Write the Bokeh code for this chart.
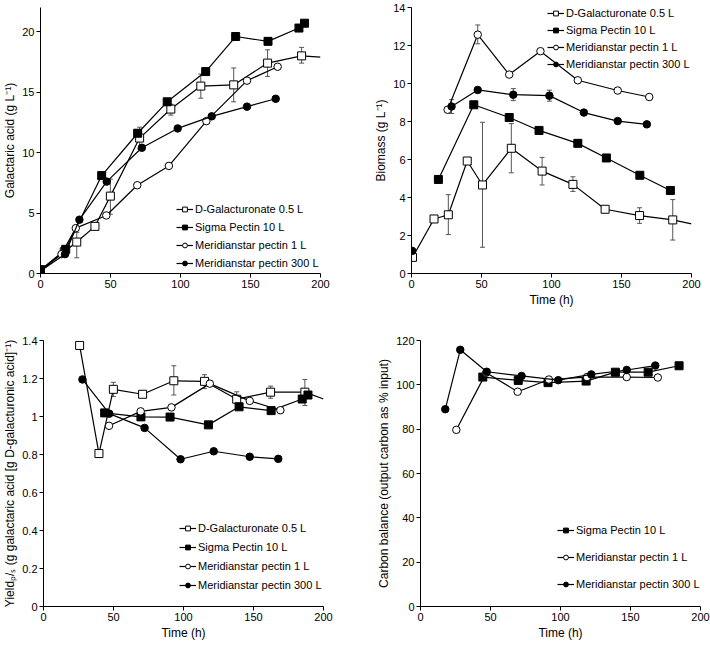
from bokeh.plotting import figure
from bokeh.models import ColumnDataSource, Whisker, TeeHead, Legend, LegendItem, FixedTicker, Range1d
from bokeh.layouts import column, row
from bokeh.embed import file_html
from bokeh.resources import INLINE

FONT = "Liberation Sans"

# ---------------- data ----------------
time_ticks = [0, 50, 100, 150, 200]

# Panel 1: Galactaric acid (g/L)
ga_dgal_t = [0, 17, 25.9, 38.9, 49.9, 70.8, 93.1, 114.5, 138.0, 162.2, 186.5]
ga_dgal_y = [0.3, 1.8, 2.6, 3.9, 6.4, 11.2, 13.6, 15.5, 15.6, 17.4, 18.0]
ga_dgal_tail = (200, 17.9)
ga_dgal_err_t = [25.9, 49.9, 70.8, 93.1, 114.5, 138.0, 162.2, 186.5]
ga_dgal_err_lo = [1.3, 4.9, 10.3, 13.1, 14.5, 14.2, 16.3, 17.4]
ga_dgal_err_hi = [3.4, 7.8, 12.1, 14.0, 16.5, 17.0, 18.5, 18.7]
ga_sigma_t = [0, 18, 43.7, 69.4, 90.5, 118.0, 139.4, 162.5, 184.6, 188.6]
ga_sigma_y = [0.3, 2.0, 8.1, 11.6, 14.2, 16.7, 19.6, 19.2, 20.3, 20.7]
ga_ms1_t = [0, 15, 25.2, 47.0, 69.1, 91.7, 118.5, 147.5, 169.4]
ga_ms1_y = [0.2, 1.6, 3.75, 4.8, 7.3, 8.9, 12.6, 15.95, 17.1]
ga_ms300_t = [0, 17.5, 27.8, 47.3, 72.4, 98.0, 122.3, 147.5, 168.0]
ga_ms300_y = [0.2, 1.6, 4.45, 7.6, 10.4, 12.0, 13.0, 13.8, 14.45]
ga_yticks = [0, 5, 10, 15, 20]

# Panel 2: Biomass (g/L)
bm_dgal_t = [0.7, 16.1, 26.3, 39.8, 50.7, 71.3, 93.3, 115.3, 138.3, 162.9, 186.6]
bm_dgal_y = [0.85, 2.87, 3.09, 5.92, 4.66, 6.59, 5.39, 4.69, 3.38, 3.05, 2.82]
bm_dgal_tail = (200, 2.61)
bm_dgal_err_t = [26.3, 50.7, 71.3, 93.3, 115.3, 162.9, 186.6]
bm_dgal_err_lo = [2.05, 1.38, 5.3, 4.66, 4.32, 2.64, 1.76]
bm_dgal_err_hi = [4.15, 7.96, 7.89, 6.11, 5.09, 3.46, 3.89]
bm_sigma_t = [19.2, 44.5, 69.8, 91.1, 118.8, 139.2, 163.1, 184.9]
bm_sigma_y = [4.95, 8.88, 8.21, 7.53, 6.85, 6.08, 5.17, 4.37]
bm_ms1_t = [25.8, 47.3, 69.8, 92.1, 118.8, 147.3, 169.8]
bm_ms1_y = [8.62, 12.57, 10.47, 11.7, 10.17, 9.63, 9.29]
bm_ms1_err_t = [47.3]
bm_ms1_err_lo = [12.09]
bm_ms1_err_hi = [13.08]
bm_ms300_t = [0.5, 28.6, 47.3, 72.7, 98.5, 123.1, 147.3, 168.1]
bm_ms300_y = [1.19, 8.79, 9.66, 9.41, 9.36, 8.47, 8.02, 7.85]
bm_ms300_err_t = [28.6, 72.7, 98.5]
bm_ms300_err_lo = [8.42, 9.1, 9.07]
bm_ms300_err_hi = [9.15, 9.73, 9.65]
bm_yticks = [0, 2, 4, 6, 8, 10, 12, 14]

# Panel 3: Yield P/S
yl_dgal_t = [25.8, 39.6, 49.9, 70.8, 93.1, 115.0, 138.0, 162.2, 186.7]
yl_dgal_y = [1.374, 0.805, 1.143, 1.117, 1.188, 1.185, 1.091, 1.128, 1.128]
yl_dgal_tail = (200, 1.092)
yl_dgal_err_t = [49.9, 93.1, 115.0, 138.0, 162.2, 186.7]
yl_dgal_err_lo = [1.105, 1.113, 1.147, 1.07, 1.096, 1.058]
yl_dgal_err_hi = [1.18, 1.267, 1.22, 1.13, 1.16, 1.195]
yl_sigma_t = [43.7, 69.6, 90.4, 117.8, 139.7, 162.6, 184.8, 188.9]
yl_sigma_y = [1.019, 0.998, 0.997, 0.956, 1.051, 1.031, 1.092, 1.113]
yl_ms1_t = [46.8, 69.4, 91.4, 118.8, 147.3, 169.2]
yl_ms1_y = [0.951, 1.027, 1.048, 1.173, 1.082, 1.033]
yl_ms300_t = [27.8, 47.0, 72.2, 97.9, 121.6, 147.3, 167.7]
yl_ms300_y = [1.195, 1.015, 0.94, 0.775, 0.817, 0.788, 0.777]
yl_yticks = [0, 0.2, 0.4, 0.6, 0.8, 1.0, 1.2, 1.4]
yl_ylabels = ["0", "0.2", "0.4", "0.6", "0.8", "1", "1.2", "1.4"]

# Panel 4: Carbon balance (%)
cb_sigma_t = [44.5, 69.8, 91.1, 118.3, 139.2, 162.6, 184.7]
cb_sigma_y = [103.5, 102.0, 101.0, 101.7, 105.7, 105.7, 108.6]
cb_ms1_t = [25.6, 47.0, 69.4, 91.7, 118.9, 147.3, 169.5]
cb_ms1_y = [79.7, 105.5, 96.9, 102.4, 103.5, 103.5, 103.3]
cb_ms300_t = [17.7, 28.4, 47.3, 72.2, 98.4, 122.0, 147.3, 167.7]
cb_ms300_y = [89.0, 115.8, 105.9, 104.0, 102.1, 104.7, 106.7, 108.7]
cb_yticks = [0, 20, 40, 60, 80, 100, 120]

names = ["D-Galacturonate 0.5 L", "Sigma Pectin 10 L", "Meridianstar pectin 1 L", "Meridianstar pectin 300 L"]
markers = ["square", "square", "circle", "circle"]
fills = ["white", "black", "white", "black"]
sizes = [8, 8, 7.5, 7.5]

# ---------------- helpers ----------------
def make_panel(fw, fh, ymax, yticks, ylabel, xlabel, series, leg_xy, leg_spacing,
               ylabels=None, top=7, bottom=36, left=36, right=10):
    p = figure(frame_width=fw, frame_height=fh, x_range=Range1d(0, 200), y_range=Range1d(0, ymax),
               output_backend="svg", toolbar_location=None,
               min_border_left=left, min_border_right=right, min_border_top=top, min_border_bottom=bottom)
    p.outline_line_color = None
    p.xgrid.visible = False
    p.ygrid.visible = False
    for ax in (p.xaxis[0], p.yaxis[0]):
        ax.axis_line_color = "black"
        ax.axis_line_width = 1
        ax.major_tick_line_color = "black"
        ax.major_tick_in = 0
        ax.major_tick_out = 4
        ax.minor_tick_line_color = None
        ax.major_label_text_font = FONT
        ax.major_label_text_font_size = "11px"
        ax.major_label_text_color = "black"
        ax.major_label_standoff = 2
        ax.axis_label_text_font = FONT
        ax.axis_label_text_font_size = "12px"
        ax.axis_label_text_font_style = "normal"
        ax.axis_label_text_color = "black"
        ax.axis_label_standoff = 2
    p.xaxis.ticker = FixedTicker(ticks=time_ticks)
    p.yaxis.ticker = FixedTicker(ticks=yticks)
    if ylabels is not None:
        p.yaxis.major_label_overrides = {v: s for v, s in zip(yticks, ylabels)}
    p.yaxis.axis_label = ylabel
    p.xaxis.axis_label = xlabel

    items = []
    for s in series:
        i = s["idx"]
        if s.get("err"):
            et, lo, hi = s["err"]
            src = ColumnDataSource(dict(t=et, lo=lo, hi=hi))
            w = Whisker(base="t", lower="lo", upper="hi", source=src, line_color="#555555", line_width=1,
                        lower_head=TeeHead(size=5, line_color="#555555", line_width=1),
                        upper_head=TeeHead(size=5, line_color="#555555", line_width=1))
            w.level = "underlay"
            p.add_layout(w)
        lt = list(s["t"][s.get("line_from", 0):])
        ly = list(s["y"][s.get("line_from", 0):])
        if s.get("tail"):
            lt.append(s["tail"][0])
            ly.append(s["tail"][1])
        lr = p.line(lt, ly, line_color="black", line_width=1.2)
        sr = p.scatter(s["t"], s["y"], marker=markers[i], size=sizes[i], fill_color=fills[i],
                       line_color="black", line_width=1)
        items.append(LegendItem(label=names[i], renderers=[lr, sr]))
    leg = Legend(items=items, location=leg_xy, label_text_font=FONT, label_text_font_size="11px",
                 label_text_color="black", glyph_width=17, glyph_height=12, label_height=12,
                 label_standoff=2, spacing=leg_spacing, padding=0, margin=0,
                 background_fill_alpha=0, border_line_alpha=0)
    p.add_layout(leg)
    return p

FH = 266
p1 = make_panel(280, FH, 22, ga_yticks, "Galactaric acid (g L\u207b\u00b9)", None, [
    dict(idx=0, t=ga_dgal_t, y=ga_dgal_y, tail=ga_dgal_tail, err=(ga_dgal_err_t, ga_dgal_err_lo, ga_dgal_err_hi)),
    dict(idx=1, t=ga_sigma_t, y=ga_sigma_y),
    dict(idx=2, t=ga_ms1_t, y=ga_ms1_y),
    dict(idx=3, t=ga_ms300_t, y=ga_ms300_y),
], (136, 4), 6, top=7, right=51)

p2 = make_panel(280, FH, 14, bm_yticks, "Biomass (g L\u207b\u00b9)", "Time (h)", [
    dict(idx=0, t=bm_dgal_t, y=bm_dgal_y, tail=bm_dgal_tail, err=(bm_dgal_err_t, bm_dgal_err_lo, bm_dgal_err_hi)),
    dict(idx=1, t=bm_sigma_t, y=bm_sigma_y),
    dict(idx=2, t=bm_ms1_t, y=bm_ms1_y, err=(bm_ms1_err_t, bm_ms1_err_lo, bm_ms1_err_hi)),
    dict(idx=3, t=bm_ms300_t, y=bm_ms300_y, line_from=1, err=(bm_ms300_err_t, bm_ms300_err_lo, bm_ms300_err_hi)),
], (136, FH - 63), 5, top=7, right=10)

p3 = make_panel(280, FH, 1.4, yl_yticks, "Yield\u209a/\u209b (g galactaric acid [g D-galacturonic acid]\u207b\u00b9)", "Time (h)", [
    dict(idx=0, t=yl_dgal_t, y=yl_dgal_y, tail=yl_dgal_tail, err=(yl_dgal_err_t, yl_dgal_err_lo, yl_dgal_err_hi)),
    dict(idx=1, t=yl_sigma_t, y=yl_sigma_y),
    dict(idx=2, t=yl_ms1_t, y=yl_ms1_y),
    dict(idx=3, t=yl_ms300_t, y=yl_ms300_y),
], (136, 15), 7, ylabels=yl_ylabels, top=31, right=51)

p4 = make_panel(280, FH, 120, cb_yticks, "Carbon balance (output carbon as % input)", "Time (h)", [
    dict(idx=1, t=cb_sigma_t, y=cb_sigma_y),
    dict(idx=2, t=cb_ms1_t, y=cb_ms1_y),
    dict(idx=3, t=cb_ms300_t, y=cb_ms300_y),
], (137, 16), 15, top=31, right=10)

layout = column(row(p1, p2), row(p3, p4))
open("out.html", "w").write(file_html(layout, INLINE))
